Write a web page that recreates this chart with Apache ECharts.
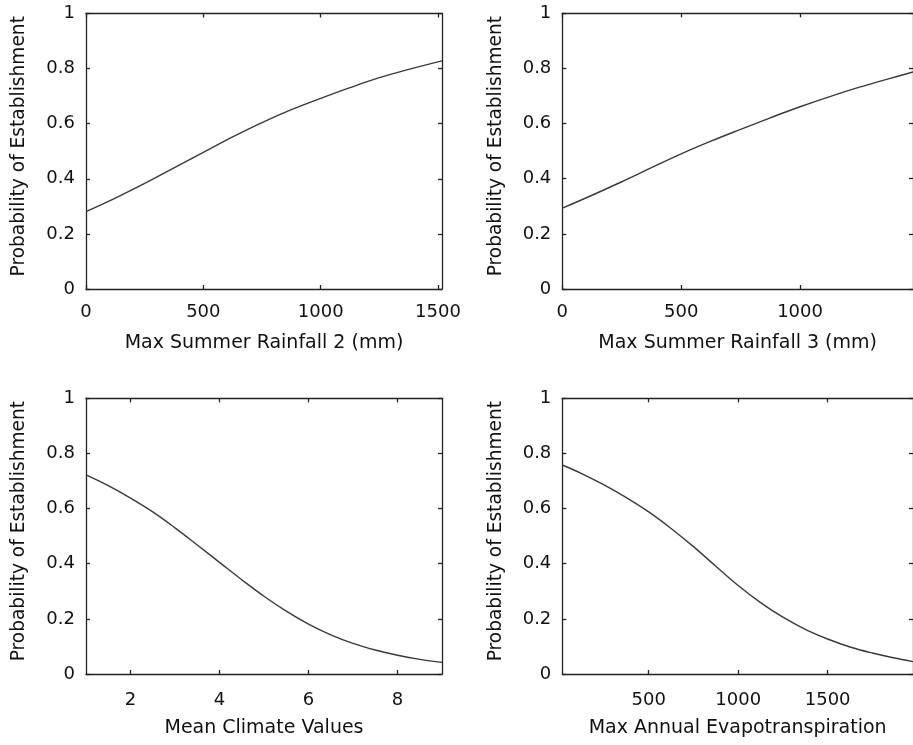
<!DOCTYPE html>
<html><head><meta charset="utf-8">
<script src="https://cdn.jsdelivr.net/npm/echarts@6/dist/echarts.min.js"></script>
<style>html,body{margin:0;padding:0;background:#fff}#c{width:913px;height:745px}</style>
</head><body><div id="c"></div>
<script>
// ---- data ----
const yTitle = 'Probability of Establishment';
const yRange = [0, 1];

const p1Title = 'Max Summer Rainfall 2 (mm)';
const p1Range = [0, 1517];
const p1Ticks = [0, 500, 1000, 1500];
const p1X = [0, 125, 250, 375, 500, 625, 750, 875, 1000, 1125, 1250, 1375, 1517];
const p1Y = [0.281, 0.330, 0.383, 0.440, 0.496, 0.552, 0.604, 0.651, 0.692, 0.731, 0.767, 0.797, 0.828];

const p2Title = 'Max Summer Rainfall 3 (mm)';
const p2Range = [0, 1475];
const p2Ticks = [0, 500, 1000];
const p2X = [0, 125, 250, 375, 500, 625, 750, 875, 1000, 1125, 1250, 1375, 1475];
const p2Y = [0.293, 0.340, 0.389, 0.440, 0.490, 0.536, 0.579, 0.621, 0.661, 0.698, 0.732, 0.763, 0.787];

const p3Title = 'Mean Climate Values';
const p3Range = [1, 9];
const p3Ticks = [2, 4, 6, 8];
const p3X = [1, 1.5, 2, 2.5, 3, 3.5, 4, 4.5, 5, 5.5, 6, 6.5, 7, 7.5, 8, 8.5, 9];
const p3Y = [0.722, 0.683, 0.638, 0.588, 0.530, 0.468, 0.405, 0.342, 0.282, 0.228, 0.181, 0.142, 0.111, 0.087, 0.068, 0.053, 0.042];

const p4Title = 'Max Annual Evapotranspiration';
const p4Range = [17, 1977];
const p4Ticks = [500, 1000, 1500];
const p4X = [17, 125, 250, 375, 500, 625, 750, 875, 1000, 1125, 1250, 1375, 1500, 1625, 1750, 1875, 1977];
const p4Y = [0.758, 0.727, 0.686, 0.640, 0.588, 0.528, 0.462, 0.391, 0.321, 0.259, 0.206, 0.162, 0.127, 0.098, 0.076, 0.058, 0.045];

// ---- layout ----
const FONT = 'DejaVu Sans';
const AX = '#222';
const grids = [
  {left: 86, top: 13.5, width: 356, height: 275.5},
  {left: 562.3, top: 13.3, width: 356, height: 275.7},
  {left: 86, top: 398.3, width: 356, height: 275.7},
  {left: 562.3, top: 398.3, width: 356, height: 275.7}
];
const panels = [
  {title: p1Title, range: p1Range, ticks: p1Ticks, x: p1X, y: p1Y, lm: 14},
  {title: p2Title, range: p2Range, ticks: p2Ticks, x: p2X, y: p2Y, lm: 14},
  {title: p3Title, range: p3Range, ticks: p3Ticks, x: p3X, y: p3Y, lm: 17},
  {title: p4Title, range: p4Range, ticks: p4Ticks, x: p4X, y: p4Y, lm: 17}
];

const plain = v => String(v);
const lineStyle = {color: AX, width: 1.3};
const xAxis = [], yAxis = [], series = [];
panels.forEach((p, i) => {
  xAxis.push({
    type: 'value', gridIndex: i, position: 'bottom', min: p.range[0], max: p.range[1],
    name: p.title, nameLocation: 'middle', nameGap: 45,
    nameTextStyle: {fontFamily: FONT, fontSize: 19, color: '#111'},
    axisLine: {show: true, onZero: false, lineStyle},
    axisTick: {show: true, inside: true, length: 4, customValues: p.ticks, lineStyle},
    axisLabel: {show: true, customValues: p.ticks, formatter: plain, margin: p.lm, fontFamily: FONT, fontSize: 18, color: '#111'},
    splitLine: {show: false}
  });
  xAxis.push({
    type: 'value', gridIndex: i, position: 'top', min: p.range[0], max: p.range[1],
    axisLine: {show: true, onZero: false, lineStyle},
    axisTick: {show: true, inside: true, length: 4, customValues: p.ticks, lineStyle},
    axisLabel: {show: false}, splitLine: {show: false}
  });
  yAxis.push({
    type: 'value', gridIndex: i, position: 'left', min: yRange[0], max: yRange[1], interval: 0.2,
    name: yTitle, nameLocation: 'middle', nameGap: 57,
    nameTextStyle: {fontFamily: FONT, fontSize: 18.6, color: '#111', padding: [0, 0, 0, 10]},
    axisLine: {show: true, onZero: false, lineStyle},
    axisTick: {show: true, inside: true, length: 4, lineStyle},
    axisLabel: {show: true, formatter: plain, margin: 11, fontFamily: FONT, fontSize: 18, color: '#111'},
    splitLine: {show: false}
  });
  yAxis.push({
    type: 'value', gridIndex: i, position: 'right', min: yRange[0], max: yRange[1], interval: 0.2,
    axisLine: {show: true, onZero: false, lineStyle},
    axisTick: {show: true, inside: true, length: 4, lineStyle},
    axisLabel: {show: false}, splitLine: {show: false}
  });
  series.push({
    type: 'line', xAxisIndex: 2 * i, yAxisIndex: 2 * i,
    data: p.x.map((v, k) => [v, p.y[k]]),
    showSymbol: false, smooth: 0.4, silent: true,
    lineStyle: {color: '#3a3a3a', width: 1.4}
  });
});

const chart = echarts.init(document.getElementById('c'));
chart.setOption({
  animation: false,
  backgroundColor: '#fff',
  grid: grids.map(g => Object.assign({containLabel: false}, g)),
  xAxis, yAxis, series
});
</script>
</body></html>
